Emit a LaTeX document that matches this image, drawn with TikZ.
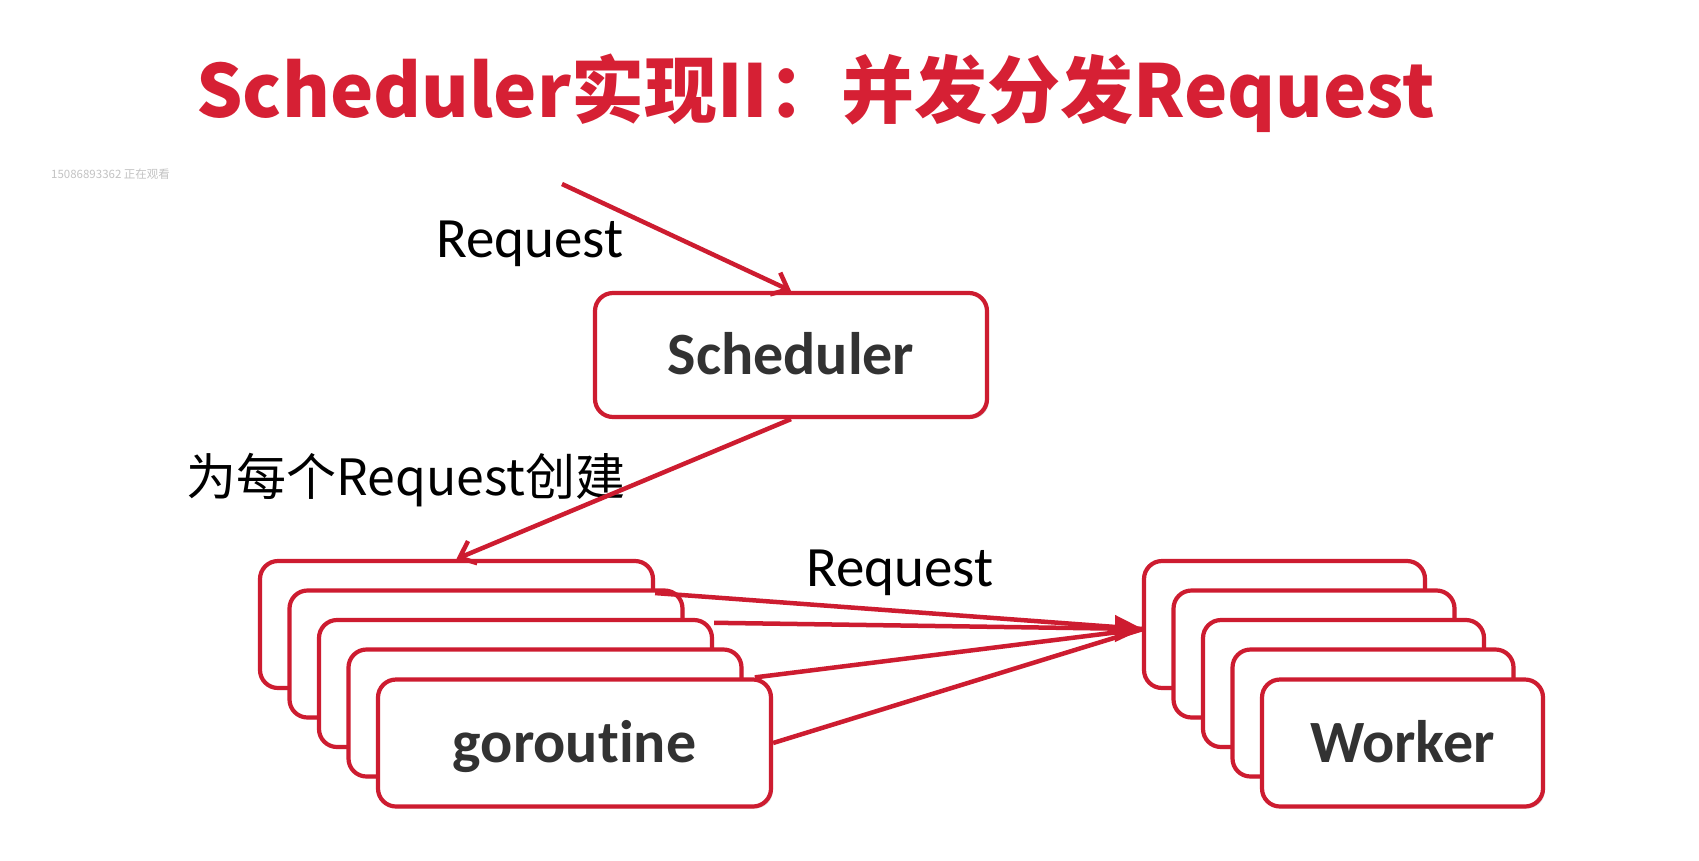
\documentclass[tikz,border=0pt]{standalone}
\usepackage{fontspec}
\setmainfont{Carlito}[Ligatures=NoCommon]
\newfontfamily\cjk{Noto Sans CJK SC}
\usetikzlibrary{arrows.meta,shadows,calc}
\definecolor{boxred}{RGB}{205,28,48}
\definecolor{titlered}{RGB}{214,32,52}
\definecolor{txtgray}{RGB}{50,50,50}
\definecolor{wmgray}{RGB}{195,195,195}
\tikzset{
  rbox/.style={draw=boxred, line width=4.2pt, fill=white, rounded corners=18pt,
    inner sep=0pt, drop shadow={opacity=0.22, shadow xshift=2pt, shadow yshift=-2pt}},
  gbox/.style={rbox, minimum width=393pt, minimum height=127pt},
  wbox/.style={rbox, minimum width=281pt, minimum height=127pt},
  sbox/.style={rbox, minimum width=392pt, minimum height=124pt},
  boxtext/.style={font=\fontsize{60}{70}\selectfont\bfseries, text=txtgray},
  conn/.style={draw=boxred, line width=4.5pt},
  barb/.style={conn, -{Straight Barb[length=14pt, width=24pt, line width=4.5pt]}},
  lbl/.style={font=\fontsize{57}{66}\selectfont, text=black, inner sep=0pt},
}
\begin{document}
\begin{tikzpicture}[x=1pt, y=-1pt]
\useasboundingbox[fill=white] (0,0) rectangle (1699,860);

% title
\node[anchor=base, inner sep=0pt, text=titlered, font=\cjk\bfseries\fontsize{73}{88}\selectfont] (title) at (815.5,117) {Scheduler实现II：并发分发Request};
% watermark
\node[anchor=base west, inner sep=0pt, text=wmgray, font=\cjk\fontsize{11.5}{13}\selectfont] (wm) at (51,178) {15086893362 正在观看};

% scheduler
\node[sbox] (sch) at (791,355) {};
\node[boxtext, anchor=base, inner sep=0pt] (schT) at (791,374) {Scheduler};

% goroutine stack
\node[gbox] (g1) at (456.5,624.5) {};
\node[gbox] (g2) at (486,654) {};
\node[gbox] (g3) at (515.5,683.5) {};
\node[gbox] (g4) at (545,713) {};
\node[gbox] (g5) at (574.5,743) {};
\node[boxtext, anchor=base, inner sep=0pt] (gT) at (574.5,762) {goroutine};

% worker stack
\node[wbox] (w1) at (1284.5,624.5) {};
\node[wbox] (w2) at (1314,654) {};
\node[wbox] (w3) at (1343.5,683.5) {};
\node[wbox] (w4) at (1373,713) {};
\node[wbox] (w5) at (1402.5,743) {};
\node[boxtext, anchor=base, inner sep=0pt] (wT) at (1402.5,762) {Worker};

% labels
\node[lbl, anchor=base] (l1) at (530,257) {Request};
\node[lbl, anchor=base, font=\cjk\fontsize{50}{58}\selectfont] (l2) at (406,495) {为每个Request创建};
\node[lbl, anchor=base] (l3) at (900,586) {Request};

% connectors
\coordinate (src) at (562,184);
\draw[barb] (src) -- (sch.north);
\draw[barb] (sch.south) -- (g1.north);

\coordinate (tip) at (1143,629);
\draw[conn] (g1.9.4) -- (tip);
\draw[conn] (g5.20) -- (tip);
\draw[conn] (g5.east) -- (tip);
\draw[conn, -{Triangle[length=28pt, width=26pt]}] (g3.17) -- (tip);
\end{tikzpicture}
\end{document}
